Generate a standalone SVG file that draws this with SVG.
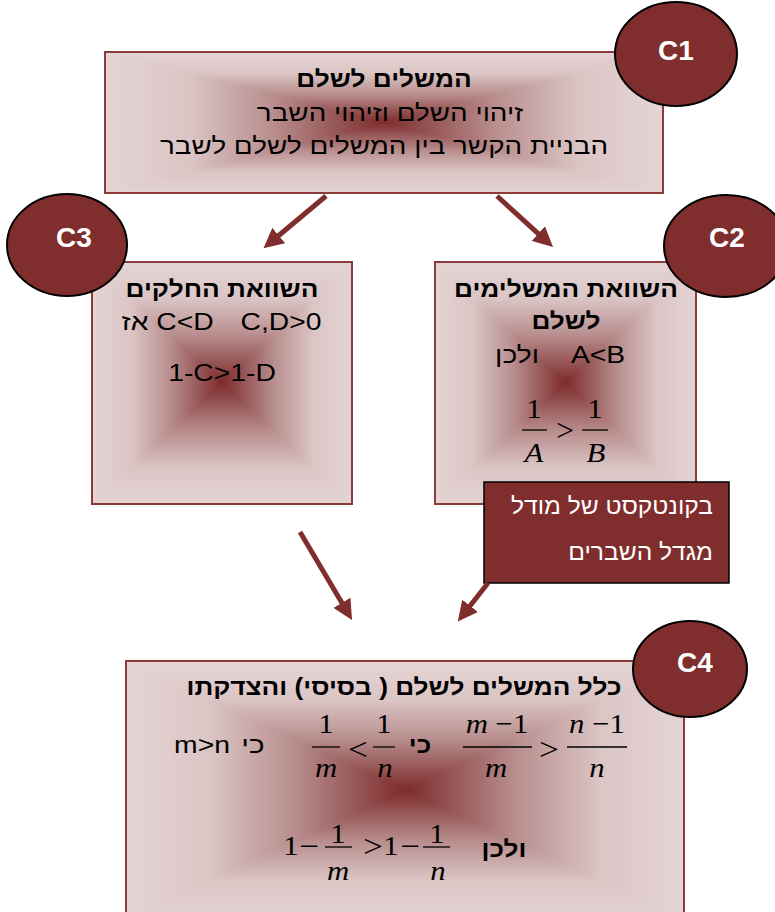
<svg xmlns="http://www.w3.org/2000/svg" width="775" height="912" viewBox="0 0 775 912">
<defs>
<style>
.t{font-family:"Liberation Sans","DejaVu Sans",Arial,sans-serif;font-size:23px;fill:#000;text-anchor:middle}
.he{direction:rtl}
.b{font-weight:bold}
.w{fill:#fff}
.r{text-anchor:start}
.badge{fill:#7f2d2d;stroke:#000;stroke-width:2}
.bt{font-family:"Liberation Sans",Arial,sans-serif;font-weight:bold;font-size:28px;fill:#fff;text-anchor:middle}
.frame{fill:none;stroke:#8d3a3a;stroke-width:2}
.mth{font-family:"Liberation Serif","Times New Roman",serif;font-size:28px;fill:#000;text-anchor:middle}
.rel{font-size:32px}
.i{font-style:italic}
.bar{stroke:#000;stroke-width:1.3}
.conn{fill:none;stroke:#7f2d2d;stroke-width:5;marker-end:url(#ah)}
.callout{fill:#7f2d2d;stroke:#000;stroke-width:1.5}
</style>
<linearGradient id="gT" x1="0" y1="0" x2="0" y2="1">
<stop offset="0" stop-color="#e5d4d4"/><stop offset="0.3" stop-color="#dbc5c5"/><stop offset="0.6" stop-color="#b98e8e"/><stop offset="0.85" stop-color="#935151"/><stop offset="1" stop-color="#7e2a2a"/>
</linearGradient>
<linearGradient id="gB" href="#gT" x1="0" y1="1" x2="0" y2="0"/>
<linearGradient id="gL" href="#gT" x1="0" y1="0" x2="1" y2="0"/>
<linearGradient id="gR" href="#gT" x1="1" y1="0" x2="0" y2="0"/>
<radialGradient id="gC" cx="0.5" cy="0.5" r="0.5">
<stop offset="0" stop-color="#7e2a2a"/><stop offset="0.4" stop-color="#b98e8e"/><stop offset="1" stop-color="#e5d4d4"/>
</radialGradient>
<marker id="ah" viewBox="0 0 20 20" markerUnits="userSpaceOnUse" markerWidth="20" markerHeight="20" refX="7" refY="10" orient="auto">
<path d="M0,0 L20,10 L0,20 z" fill="#7f2d2d"/>
</marker>
</defs>

<g id="c1">
<rect x="105" y="52" width="558" height="141" fill="url(#gC)"/>
<polygon points="105,52 663,52 384,122.5" fill="url(#gT)"/>
<polygon points="105,193 663,193 384,122.5" fill="url(#gB)"/>
<polygon points="105,52 105,193 384,122.5" fill="url(#gL)"/>
<polygon points="663,52 663,193 384,122.5" fill="url(#gR)"/>
<rect class="frame" x="105" y="52" width="558" height="141"/>
<text class="t he b" transform="translate(384 87) scale(1.14 1)">המשלים לשלם</text>
<text class="t he" transform="translate(390 121) scale(1.21 1)">זיהוי השלם וזיהוי השבר</text>
<text class="t he" transform="translate(384 154) scale(1.21 1)">הבניית הקשר בין המשלים לשלם לשבר</text>
<ellipse class="badge" cx="676" cy="54" rx="61" ry="52"/>
<text class="bt" x="676" y="60">C1</text>
</g>

<g id="c3">
<rect x="92" y="262" width="260" height="242" fill="url(#gC)"/>
<polygon points="92,262 352,262 222,383" fill="url(#gT)"/>
<polygon points="92,504 352,504 222,383" fill="url(#gB)"/>
<polygon points="92,262 92,504 222,383" fill="url(#gL)"/>
<polygon points="352,262 352,504 222,383" fill="url(#gR)"/>
<rect class="frame" x="92" y="262" width="260" height="242"/>
<text class="t he b" transform="translate(222 297) scale(1.14 1)">השוואת החלקים</text>
<text class="t" transform="translate(281 330) scale(1.23 1)">C,D&gt;0</text>
<text class="t" transform="translate(185 330) scale(1.23 1)">C&lt;D</text>
<text class="t he" transform="translate(135 330) scale(1.23 1)">אז</text>
<text class="t" transform="translate(222 381) scale(1.23 1)">1-C&gt;1-D</text>
<ellipse class="badge" cx="67" cy="245" rx="60" ry="51"/>
<text class="bt" x="74" y="247">C3</text>
</g>

<g id="c2">
<rect x="435" y="262" width="261" height="242" fill="url(#gC)"/>
<polygon points="435,262 696,262 565.5,383" fill="url(#gT)"/>
<polygon points="435,504 696,504 565.5,383" fill="url(#gB)"/>
<polygon points="435,262 435,504 565.5,383" fill="url(#gL)"/>
<polygon points="696,262 696,504 565.5,383" fill="url(#gR)"/>
<rect class="frame" x="435" y="262" width="261" height="242"/>
<text class="t he b" transform="translate(566 297) scale(1.14 1)">השוואת המשלימים</text>
<text class="t he b" transform="translate(566 329) scale(1.14 1)">לשלם</text>
<text class="t" transform="translate(598 363) scale(1.23 1)">A&lt;B</text>
<text class="t he" transform="translate(517 363) scale(1.23 1)">ולכן</text>
<text class="mth" transform="translate(534 418) scale(1.1 1)">1</text>
<line class="bar" x1="522" y1="430" x2="547" y2="430"/>
<text class="mth i" transform="translate(534 462) scale(1.1 1)">A</text>
<text class="mth rel" transform="translate(565 441) scale(1.0 1)">&gt;</text>
<text class="mth" transform="translate(595 418) scale(1.1 1)">1</text>
<line class="bar" x1="582" y1="430" x2="608" y2="430"/>
<text class="mth i" transform="translate(596 462) scale(1.1 1)">B</text>
<ellipse class="badge" cx="726" cy="246" rx="62" ry="51"/>
<text class="bt" x="727" y="247">C2</text>
</g>

<g id="note">
<rect class="callout" x="484" y="482" width="245" height="101"/>
<text class="t he w r" transform="translate(713 514) scale(1.07 1)">בקונטקסט של מודל</text>
<text class="t he w r" transform="translate(713 560) scale(1.07 1)">מגדל השברים</text>
</g>

<g id="c4">
<rect x="126" y="661" width="558" height="258" fill="url(#gC)"/>
<polygon points="126,661 684,661 405,790" fill="url(#gT)"/>
<polygon points="126,919 684,919 405,790" fill="url(#gB)"/>
<polygon points="126,661 126,919 405,790" fill="url(#gL)"/>
<polygon points="684,661 684,919 405,790" fill="url(#gR)"/>
<rect class="frame" x="126" y="661" width="558" height="258"/>
<text class="t he b" transform="translate(404 695) scale(1.14 1)">כלל המשלים לשלם ( בסיסי) והצדקתו</text>
<text class="t" transform="translate(202 753) scale(1.23 1)">m&gt;n</text>
<text class="t he" transform="translate(253 753) scale(1.3 1)">כי</text>
<text class="mth" transform="translate(326 733) scale(1.1 1)">1</text>
<line class="bar" x1="312" y1="747" x2="340" y2="747"/>
<text class="mth i" transform="translate(326 777) scale(1.1 1)">m</text>
<text class="mth rel" transform="translate(358 760) scale(1.1 1)">&lt;</text>
<text class="mth" transform="translate(384 733) scale(1.1 1)">1</text>
<line class="bar" x1="373" y1="747" x2="395" y2="747"/>
<text class="mth i" transform="translate(385 777) scale(1.1 1)">n</text>
<text class="t he b" transform="translate(420 753) scale(1.14 1)">כי</text>
<text class="mth" transform="translate(497 733) scale(1.1 1)"><tspan class="i">m</tspan> −1</text>
<line class="bar" x1="463" y1="747" x2="532" y2="747"/>
<text class="mth i" transform="translate(496 777) scale(1.1 1)">m</text>
<text class="mth rel" transform="translate(549 760) scale(1.1 1)">&gt;</text>
<text class="mth" transform="translate(597 733) scale(1.1 1)"><tspan class="i">n</tspan> −1</text>
<line class="bar" x1="567" y1="747" x2="627" y2="747"/>
<text class="mth i" transform="translate(597 777) scale(1.1 1)">n</text>
<text class="mth" transform="translate(291 855) scale(1.1 1)">1</text>
<text class="mth rel" transform="translate(309 857) scale(1.1 1)">−</text>
<text class="mth" transform="translate(338 843) scale(1.1 1)">1</text>
<line class="bar" x1="325" y1="847" x2="352" y2="847"/>
<text class="mth i" transform="translate(338 880) scale(1.1 1)">m</text>
<text class="mth rel" transform="translate(373 857) scale(1.1 1)">&gt;</text>
<text class="mth" transform="translate(391 855) scale(1.1 1)">1</text>
<text class="mth rel" transform="translate(410 857) scale(1.1 1)">−</text>
<text class="mth" transform="translate(437 843) scale(1.1 1)">1</text>
<line class="bar" x1="423" y1="847" x2="450" y2="847"/>
<text class="mth i" transform="translate(438 880) scale(1.1 1)">n</text>
<text class="t he b" transform="translate(504 857) scale(1.14 1)">ולכן</text>
<ellipse class="badge" cx="690" cy="669" rx="57" ry="48"/>
<text class="bt" x="695" y="672">C4</text>
</g>

<g id="connectors">
<line class="conn" x1="326" y1="196" x2="273.4" y2="240"/>
<line class="conn" x1="497" y1="196" x2="543.4" y2="238.3"/>
<line class="conn" x1="300" y1="532" x2="345.4" y2="608.8"/>
<line class="conn" x1="488" y1="583" x2="465.8" y2="611.3"/>
</g>
</svg>
